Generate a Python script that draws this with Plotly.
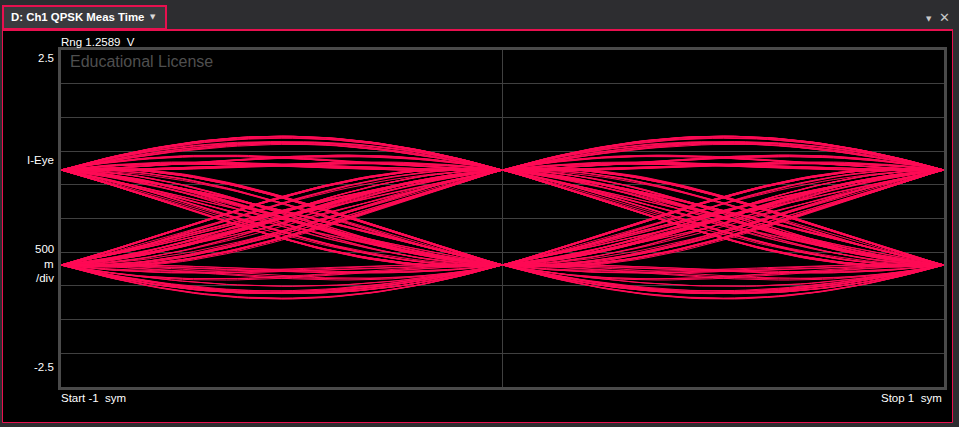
import numpy as np
import plotly.graph_objects as go

# ---- data ----
symbol_bits = ("1011001110100011010111001010011100101101000111011010010110011101"
               "0010111000110101101001110010110100111001011010011101001011001110"
               "1101000101110010011010110001110100101101110001011010011011000101"
               "1100101001101011100101")
level_high = 0.72      # V, I level for bit 1
level_low = -0.69      # V, I level for bit 0
rolloff = 0.35         # raised-cosine alpha
samples_per_symbol = 40
y_tick_values = [-2.5, -2.0, -1.5, -1.0, -0.5, 0.0, 0.5, 1.0, 1.5, 2.0, 2.5]
x_grid_values = [0]

# ---- build eye traces from the symbol stream ----
amp = (level_high - level_low) / 2
off = (level_high + level_low) / 2
sym = np.array([1.0 if b == "1" else -1.0 for b in symbol_bits])

def rc(t, a):
    t = np.asarray(t, dtype=float)
    out = np.sinc(t) * np.cos(np.pi * a * t)
    den = 1 - (2 * a * t) ** 2
    sing = np.abs(den) < 1e-9
    out = np.where(sing, np.pi / 4 * np.sinc(1 / (2 * a)), out / np.where(sing, 1, den))
    return out

span = 6
xs, ys = [], []
tloc = np.linspace(-1, 1, 2 * samples_per_symbol + 1)
for k in range(span, len(sym) - span):
    t = k + tloc
    v = np.zeros_like(t)
    for j in range(k - span - 1, k + span + 2):
        if 0 <= j < len(sym):
            v += sym[j] * rc(t - j, rolloff)
    v = off + amp * v
    xs.extend(tloc.tolist()); xs.append(None)
    ys.extend(v.tolist()); ys.append(None)

# ---- figure geometry ----
W, H = 959, 427
L, R, T, B = 61, 944, 50, 387
def px(x): return (x - L) / (R - L)
def py(y): return (B - y) / (B - T)

PINK = "#e8104f"
TRACE = "#ff0a55"
GRAY = "#4a4a4a"
FONT = "Liberation Sans"

fig = go.Figure()
fig.add_trace(go.Scatter(x=xs, y=ys, mode="lines",
                         line=dict(color=TRACE, width=1), hoverinfo="skip",
                         showlegend=False))

shapes = [
    dict(type="rect", xref="paper", yref="paper", x0=px(2.5), x1=px(952.5),
         y0=py(422.5), y1=py(30), fillcolor="black",
         line=dict(color=PINK, width=1), layer="below"),
    dict(type="line", xref="paper", yref="paper", x0=px(2), x1=px(953),
         y0=py(30), y1=py(30), line=dict(color=PINK, width=2), layer="below"),
    dict(type="rect", xref="paper", yref="paper", x0=px(3), x1=px(166),
         y0=py(29), y1=py(6), fillcolor="#3a3a3e",
         line=dict(color=PINK, width=2), layer="below"),
]

ann = []
def text(x, y, s, size=11, color="white", xanchor="left", family=FONT):
    ann.append(dict(xref="paper", yref="paper", x=px(x), y=py(y), text=s,
                    showarrow=False, xanchor=xanchor, yanchor="middle",
                    font=dict(family=family, size=size, color=color)))

text(9, 17, "<b>D: Ch1 QPSK Meas Time</b>", size=11.4)
text(153, 17, "▼", size=7, color="#d8d8d8", xanchor="center", family="DejaVu Sans")
text(929, 19, "▼", size=7, color="#c8c8c8", xanchor="center", family="DejaVu Sans")
text(945, 17, "✕", size=13, color="#c8c8c8", xanchor="center", family="DejaVu Sans")
text(59, 42, "Rng 1.2589  V", size=11.5)
text(56, 58, "2.5", xanchor="right", size=11.5)
text(56, 160, "I-Eye", xanchor="right", size=11.5)
text(56, 249, "500", xanchor="right", size=11.5)
text(56, 264, "m", xanchor="right", size=11.5)
text(56, 278, "/div", xanchor="right", size=11.5)
text(56, 367, "-2.5", xanchor="right", size=11.5)
text(59, 398, "Start -1  sym", size=11.5)
text(944, 398, "Stop 1  sym", xanchor="right", size=11.5)
text(68, 61, "Educational License", size=16, color="#4f4f4f")

fig.update_layout(
    width=W, height=H,
    margin=dict(l=L, r=W - R, t=T, b=H - B, pad=0),
    paper_bgcolor="#2d2d30", plot_bgcolor="black",
    shapes=shapes, annotations=ann, showlegend=False,
    xaxis=dict(range=[-1, 1], tickvals=x_grid_values, showticklabels=False,
               showgrid=True, gridcolor="#404040", gridwidth=1, zeroline=False,
               showline=True, linecolor=GRAY, linewidth=3, mirror=True,
               ticks="", fixedrange=True),
    yaxis=dict(range=[-2.5, 2.5], tickvals=y_tick_values, showticklabels=False,
               showgrid=True, gridcolor="#404040", gridwidth=1, zeroline=False,
               showline=True, linecolor=GRAY, linewidth=3, mirror=True,
               ticks="", fixedrange=True),
)

fig.write_html("out.html", config={"displayModeBar": False})
